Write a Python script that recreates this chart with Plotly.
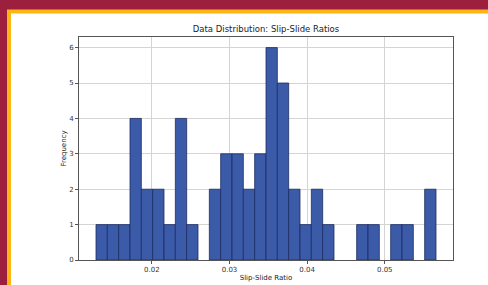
import numpy as np
import plotly.graph_objects as go

# Histogram data (30 bins)
range_min = 0.0128
range_max = 0.0566
counts = [1, 1, 1, 4, 2, 2, 1, 4, 1, 0,
          2, 3, 3, 2, 3, 6, 5, 2, 1, 2,
          1, 0, 0, 1, 1, 0, 1, 1, 0, 2]
x_ticks = [0.02, 0.03, 0.04, 0.05]
x_tick_labels = ["0.02", "0.03", "0.04", "0.05"]
y_ticks = [0, 1, 2, 3, 4, 5, 6]

edges = np.linspace(range_min, range_max, len(counts) + 1)
centers = (edges[:-1] + edges[1:]) / 2
bw = edges[1] - edges[0]
edge_widths = [0.8 if c > 0 else 0 for c in counts]

W, H = 488, 285
L, R, T, B = 79, 35, 37, 25
pw, ph = W - L - R, H - T - B

def px_x(p):
    return (p - L) / pw

def px_y(p):
    return (H - B - p) / ph

fig = go.Figure()
fig.add_trace(go.Bar(
    x=centers, y=counts, width=bw,
    marker=dict(color="#3B5BA9", line=dict(color="#1C2C63", width=edge_widths)),
    hoverinfo="skip",
))

span = range_max - range_min
fig.update_layout(
    width=W, height=H,
    margin=dict(l=L, r=R, t=T, b=B, autoexpand=False),
    paper_bgcolor="#9C1F3D",
    plot_bgcolor="white",
    showlegend=False,
    bargap=0,
    font=dict(family="DejaVu Sans", size=7, color="#333"),
    title=dict(text="Data Distribution: Slip-Slide Ratios", x=(L + pw / 2) / W,
               xanchor="center", y=1 - 29 / H, yanchor="middle",
               font=dict(size=8.5, color="#222")),
    xaxis=dict(range=[range_min - 0.05 * span, range_max + 0.05 * span],
               tickvals=x_ticks, ticktext=x_tick_labels, automargin=False,
               showgrid=True, gridcolor="#D4D4D4", gridwidth=1,
               showline=True, linecolor="#555", linewidth=1, mirror=True,
               ticks="outside", ticklen=3, tickcolor="#555",
               zeroline=False,
               title=dict(text="Slip-Slide Ratio", standoff=1, font=dict(size=7, color="#222"))),
    yaxis=dict(range=[0, 6.3], tickvals=y_ticks, automargin=False,
               showgrid=True, gridcolor="#D4D4D4", gridwidth=1,
               showline=True, linecolor="#555", linewidth=1, mirror=True,
               ticks="outside", ticklen=3, tickcolor="#555",
               zeroline=False,
               title=dict(text="Frequency", standoff=1, font=dict(size=7, color="#222"))),
    shapes=[dict(type="rect", xref="paper", yref="paper", layer="below",
                 x0=px_x(9), x1=px_x(W + 20), y0=px_y(H + 20), y1=px_y(11.5),
                 fillcolor="white", line=dict(color="#FDB515", width=4))],
)

fig.write_html("out.html", config={"displayModeBar": False, "staticPlot": True},
               post_script="document.body.style.margin='0';document.body.style.background='#9C1F3D';")
